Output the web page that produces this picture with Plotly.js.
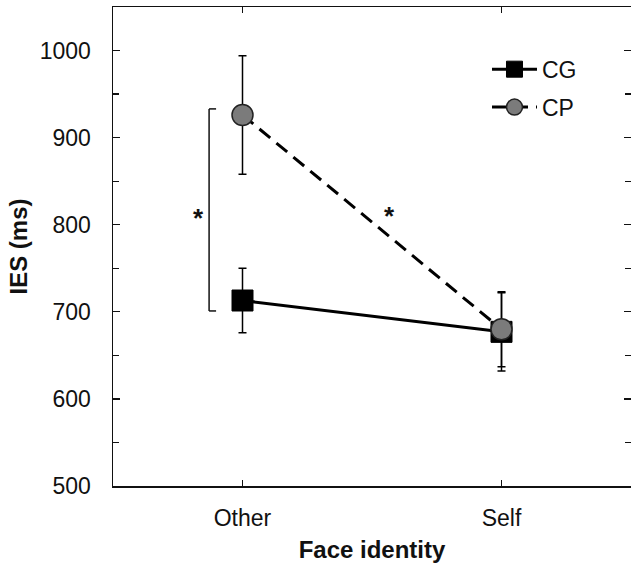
<!DOCTYPE html>
<html>
<head>
<meta charset="utf-8">
<script src="https://cdn.plot.ly/plotly-3.0.1.min.js"></script>
<style>html,body{margin:0;padding:0;background:#fff;}#chart{width:631px;height:563px;}</style>
</head>
<body>
<div id="chart"></div>
<script>
const categories = ['Other', 'Self'];
const cgValues = [713, 677];
const cgErrors = [37, 45];
const cpValues = [926, 680];
const cpErrors = [68, 43];
const yTickVals = [500, 600, 700, 800, 900, 1000];
const bracketX = [-0.129, -0.102];
const bracketY = [701, 933];
const starX = [-0.168, 0.566];
const starY = [808, 810];

const FONT = 'Liberation Sans, Arial, Helvetica, sans-serif';

const traces = [
  {
    x: categories, y: cgValues, name: 'CG', type: 'scatter', mode: 'lines+markers', legendgroup: 'g1',
    line: {color: '#000', width: 3},
    marker: {symbol: 'square', size: 21, color: '#000', line: {color: '#000', width: 1}},
    error_y: {type: 'data', array: cgErrors, visible: true, color: '#000', thickness: 1.5, width: 4}
  },
  {
    x: categories, y: cpValues, name: 'CP', type: 'scatter', mode: 'lines+markers', legendgroup: 'g2',
    line: {color: '#000', width: 3, dash: '14px,8px'},
    marker: {symbol: 'circle', size: 21, color: '#7b7b7b', line: {color: '#222', width: 1.5}},
    error_y: {type: 'data', array: cpErrors, visible: true, color: '#000', thickness: 1.5, width: 4}
  }
];

const layout = {
  width: 631, height: 563,
  margin: {l: 113, r: 0, t: 7, b: 77},
  paper_bgcolor: '#fff', plot_bgcolor: '#fff',
  font: {family: FONT, size: 23, color: '#111'},
  showlegend: true,
  legend: {x: 0.722, y: 0.915, xanchor: 'left', yanchor: 'top', bgcolor: 'rgba(0,0,0,0)',
           font: {family: FONT, size: 23, color: '#111'}, tracegroupgap: 5, itemwidth: 45},
  xaxis: {
    type: 'category', range: [-0.5, 1.5],
    showline: true, linecolor: '#111', linewidth: 1.5, mirror: 'ticks',
    ticks: 'inside', ticklen: 6, tickwidth: 1.2, tickcolor: '#111',
    showgrid: false, zeroline: false,
    tickfont: {family: FONT, size: 23, color: '#111'},
    ticklabelstandoff: 11,
    title: {text: '<b>Face identity</b>', font: {family: FONT, size: 24, color: '#111'}, standoff: 12}
  },
  yaxis: {
    range: [500, 1050], tickvals: yTickVals,
    showline: true, linecolor: '#111', linewidth: 1.5, mirror: 'allticks',
    ticks: 'inside', ticklen: 7, tickwidth: 1.2, tickcolor: '#111',
    minor: {dtick: 50, tick0: 500, ticks: 'inside', ticklen: 6, tickwidth: 1.2, tickcolor: '#111', showgrid: false},
    showgrid: false, zeroline: false,
    tickfont: {family: FONT, size: 23, color: '#111'},
    ticklabelstandoff: 16,
    title: {text: '<b>IES (ms)</b>', font: {family: FONT, size: 24, color: '#111'}, standoff: 5}
  },
  shapes: [
    {type: 'line', xref: 'x', yref: 'y', x0: bracketX[0], x1: bracketX[0], y0: bracketY[0], y1: bracketY[1], line: {color: '#111', width: 1.5}},
    {type: 'line', xref: 'x', yref: 'y', x0: bracketX[0], x1: bracketX[1], y0: bracketY[0], y1: bracketY[0], line: {color: '#111', width: 1.5}},
    {type: 'line', xref: 'x', yref: 'y', x0: bracketX[0], x1: bracketX[1], y0: bracketY[1], y1: bracketY[1], line: {color: '#111', width: 1.5}}
  ],
  annotations: starX.map((sx, i) => ({
    x: sx, y: starY[i], xref: 'x', yref: 'y', text: '<b>*</b>', showarrow: false,
    font: {family: FONT, size: 26, color: '#111'}, xanchor: 'center', yanchor: 'middle'
  }))
};

Plotly.newPlot('chart', traces, layout, {displayModeBar: false, staticPlot: true});
</script>
</body>
</html>
